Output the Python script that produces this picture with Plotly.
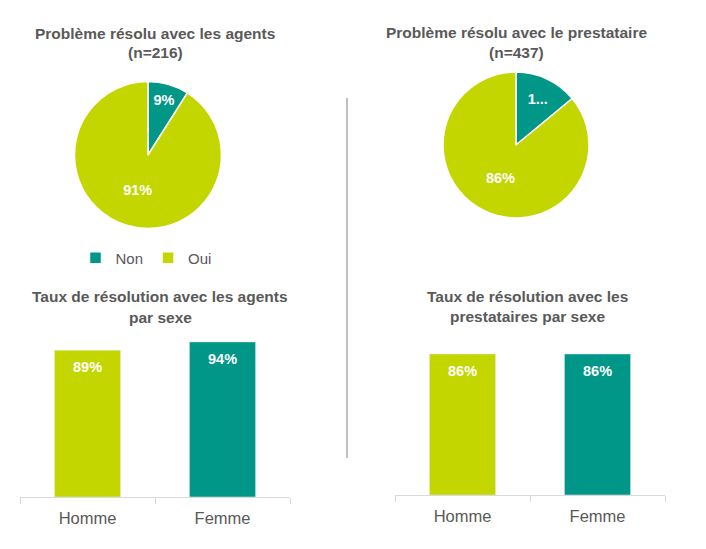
import plotly.graph_objects as go

# ----------------------------------------------------------------------------
# DATA
pie_labels = ["Non", "Oui"]
pie_agents = [9, 91]
pie_agents_text = ["9%", "91%"]
pie_presta = [14, 86]
pie_presta_text = ["1...", "86%"]   # label is truncated in the original

sexes = ["Homme", "Femme"]
bar_agents = [89, 94]
bar_presta = [86, 86]

titles = [
    (["Problème résolu avec les agents", "(n=216)"], 155, [33, 53]),
    (["Problème résolu avec le prestataire", "(n=437)"], 516, [32, 52]),
    (["Taux de résolution avec les agents", "par sexe"], 160, [296, 317]),
    (["Taux de résolution avec les", "prestataires par sexe"], 527, [296, 316]),
]

# ----------------------------------------------------------------------------
# STYLE
# the page body has an 8px margin, so the figure is made smaller and shifted
OFF = 8
W, H = 706 - OFF, 549 - OFF
teal = "#009688"
lime = "#C4D600"
grey_txt = "#595959"
font = "Liberation Sans, Arial, sans-serif"

def px_x(v):
    return (v - OFF) / W

def px_y(v):
    return 1 - (v - OFF) / H

fig = go.Figure()

# pies
pie_specs = [
    (pie_agents, pie_agents_text, (148, 155), 73.5, "legend"),
    (pie_presta, pie_presta_text, (516, 145), 73, "legend2"),
]
for vals, txt, (cx, cy), r, leg in pie_specs:
    fig.add_trace(go.Pie(
        labels=pie_labels, values=vals, text=txt, textinfo="text",
        textposition="inside", insidetextorientation="horizontal",
        sort=False, direction="clockwise", rotation=0,
        marker=dict(colors=[teal, lime], line=dict(color="white", width=1.5)),
        insidetextfont=dict(color="white", size=14.5, family=font, weight="bold"),
        domain=dict(x=[px_x(cx - r), px_x(cx + r)], y=[px_y(cy + r), px_y(cy - r)]),
        legend=leg, hoverinfo="label+percent",
    ))

# bars
bar_specs = [(bar_agents, "x", "y"), (bar_presta, "x2", "y2")]
for vals, xa, ya in bar_specs:
    fig.add_trace(go.Bar(
        x=sexes, y=vals, xaxis=xa, yaxis=ya,
        marker=dict(color=[lime, teal]),
        showlegend=False,
    ))
    # value labels just under the top of each bar
    for s, v in zip(sexes, vals):
        fig.add_annotation(x=s, y=v, xref=xa, yref=ya, text=f"{v}%",
                           showarrow=False, yanchor="middle", yshift=-17,
                           font=dict(color="white", size=14.5, family=font,
                                     weight="bold"))

axis_common = dict(showline=True, linecolor="#D9D9D9", linewidth=1,
                   ticks="outside", tickson="boundaries", ticklen=6,
                   tickcolor="#D9D9D9", showgrid=False, zeroline=False,
                   ticklabelstandoff=6,
                   tickfont=dict(size=16.5, color=grey_txt, family=font))
yaxis_common = dict(range=[0, 100], visible=False, showgrid=False)

legend_common = dict(orientation="h", xanchor="center", yanchor="middle",
                     font=dict(size=15, color=grey_txt, family=font),
                     itemwidth=30, bgcolor="rgba(0,0,0,0)")

fig.update_layout(
    width=W, height=H, margin=dict(l=0, r=0, t=0, b=0),
    paper_bgcolor="white", plot_bgcolor="white",
    font=dict(family=font, color=grey_txt),
    bargap=0.51,
    xaxis=dict(domain=[px_x(20), px_x(290)], anchor="y", **axis_common),
    yaxis=dict(domain=[px_y(497), px_y(332)], anchor="x", **yaxis_common),
    xaxis2=dict(domain=[px_x(395), px_x(665)], anchor="y2", **axis_common),
    yaxis2=dict(domain=[px_y(495), px_y(331)], anchor="x2", **yaxis_common),
    legend=dict(x=px_x(146), y=px_y(258), **legend_common),
    legend2=dict(x=px_x(514), y=px_y(248), **legend_common),
)

# titles
for lines, cx, ys in titles:
    for line, yy in zip(lines, ys):
        fig.add_annotation(text=line, x=px_x(cx), y=px_y(yy), xref="paper",
                           yref="paper", xanchor="center", yanchor="middle",
                           showarrow=False,
                           font=dict(size=15.5, color=grey_txt, family=font,
                                     weight="bold"))

# vertical separator
fig.add_shape(type="line", xref="paper", yref="paper",
              x0=px_x(347), x1=px_x(347), y0=px_y(98), y1=px_y(458),
              line=dict(color="#808080", width=1))

fig.write_html("out.html")
